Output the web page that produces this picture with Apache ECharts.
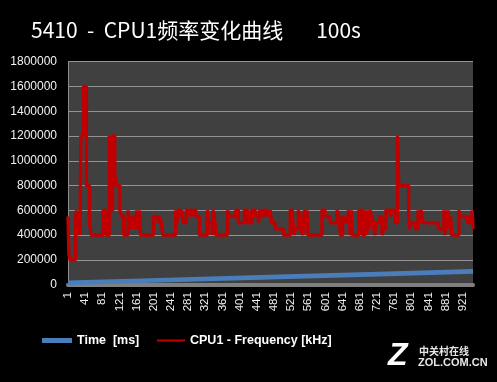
<!DOCTYPE html>
<html>
<head>
<meta charset="utf-8">
<script src="https://cdn.jsdelivr.net/npm/echarts@6/dist/echarts.min.js"></script>
<style>
html,body{margin:0;padding:0;background:#000;}
#c{width:497px;height:382px;}
</style>
</head>
<body>
<div id="c"></div>
<script>
// ---- data ----
const titleText = '5410  -  CPU1频率变化曲线       100s';
const seriesNames = ['Time  [ms]', 'CPU1 - Frequency [kHz]'];
const xMin = 1, xMax = 945, xStep = 40;
const yMax = 1800000, yStep = 200000;

// Time [ms] : sample index -> value
const timeIdx = [1, 235, 470, 705, 945];
const timeVal = [14000, 37000, 60000, 83000, 106000];

// CPU1 frequency [kHz]: sample index where a value starts -> value
const freqIdx = [
  1, 3, 6, 19, 21, 23, 27, 29, 31, 37, 44, 51, 55, 83, 89, 97, 100, 105, 110, 113,
  122, 126, 131, 141, 145, 148, 151, 154, 157, 161, 164, 167, 170, 200, 211, 214, 218, 222,
  252, 255, 258, 263, 266, 270, 277, 282, 285, 290, 293, 299, 307, 326, 329, 337, 339, 342, 346,
  373, 376, 392, 398, 412, 420, 429, 437, 445, 448, 452, 455,
  460, 464, 468, 472, 476, 484, 503, 519, 524, 528, 530, 538, 541, 544, 548, 552, 556, 558, 560,
  593, 600, 612, 628, 632, 636, 641, 645, 648, 652, 655, 659, 661, 664, 679, 687, 693, 697, 700, 703,
  705, 709, 713, 716, 719, 728, 733, 737, 742, 752, 756, 764, 769, 772, 795, 797, 801, 810, 817, 821,
  824, 826, 830, 864, 877, 879, 881, 884, 887, 890, 893, 895, 912, 914, 932, 937, 943, 945
];
const freqVal = [
  550000, 250000, 200000, 550000, 600000, 400000, 500000, 400000, 1200000, 1600000, 800000, 500000, 400000, 600000, 400000, 1200000, 600000, 1200000, 900000, 800000,
  600000, 550000, 400000, 600000, 450000, 550000, 450000, 550000, 450000, 600000, 450000, 600000, 400000, 550000, 500000, 550000, 500000, 400000,
  600000, 500000, 600000, 550000, 600000, 500000, 600000, 550000, 600000, 550000, 600000, 550000, 400000, 600000, 500000, 400000, 600000, 550000, 400000,
  600000, 550000, 600000, 500000, 600000, 500000, 600000, 550000, 500000, 600000, 550000, 600000,
  550000, 600000, 550000, 600000, 500000, 450000, 400000, 600000, 550000, 400000, 450000, 600000, 550000, 450000, 400000, 600000, 550000, 600000, 400000,
  600000, 550000, 500000, 600000, 550000, 400000, 550000, 500000, 550000, 500000, 600000, 400000, 600000, 400000, 600000, 400000, 600000, 400000, 600000, 450000,
  600000, 550000, 500000, 400000, 500000, 550000, 400000, 450000, 600000, 550000, 600000, 500000, 1200000, 800000, 550000, 450000, 500000, 450000, 600000, 500000,
  600000, 550000, 500000, 450000, 600000, 400000, 600000, 450000, 600000, 450000, 550000, 400000, 600000, 550000, 500000, 550000, 600000, 450000
];

const timeData = timeIdx.map((x, i) => [x, timeVal[i]]);
const freqData = freqIdx.map((x, i) => [x, freqVal[i]]);

const chart = echarts.init(document.getElementById('c'), null, {renderer: 'canvas'});
chart.setOption({
  backgroundColor: '#000000',
  animation: false,
  title: {
    text: titleText,
    left: 31, top: 20, padding: 0,
    textStyle: {color: '#ffffff', fontSize: 21, fontWeight: 'normal', fontFamily: 'Noto Sans CJK SC'}
  },
  legend: [
    {
      data: [seriesNames[0]], left: 42, top: 334, padding: 0, icon: 'rect',
      itemWidth: 30, itemHeight: 5,
      textStyle: {color: '#ffffff', fontSize: 12.5, fontWeight: 'bold', fontFamily: 'Liberation Sans'}
    },
    {
      data: [seriesNames[1]], left: 157, top: 334, padding: 0, icon: 'rect',
      itemWidth: 28, itemHeight: 2,
      textStyle: {color: '#ffffff', fontSize: 12.5, fontWeight: 'bold', fontFamily: 'Liberation Sans'}
    }
  ],
  grid: {
    left: 68, right: 24, top: 61.7, bottom: 97.4,
    show: true, backgroundColor: '#404040', borderWidth: 0
  },
  xAxis: {
    type: 'value', min: xMin, max: xMax, interval: xStep,
    offset: 1.5,
    axisLine: {show: true, lineStyle: {color: '#808080', width: 4}},
    axisTick: {show: false},
    splitLine: {show: false},
    axisLabel: {
      rotate: 90, margin: 6, color: '#f2f2f2', fontSize: 11.5, fontFamily: 'Liberation Sans',
      showMaxLabel: false, showMinLabel: true,
      formatter: v => String(v)
    }
  },
  yAxis: {
    type: 'value', min: 0, max: yMax, interval: yStep,
    axisLine: {show: true, lineStyle: {color: '#8c8c8c', width: 1}},
    axisTick: {show: false},
    splitLine: {show: true, lineStyle: {color: '#949494', width: 1}},
    axisLabel: {margin: 11, color: '#f2f2f2', fontSize: 12, fontFamily: 'Liberation Sans', formatter: v => String(v)}
  },
  series: [
    {
      name: seriesNames[0], type: 'line', data: timeData, symbol: 'none',
      color: '#4a7ebb',
      lineStyle: {color: '#4a7ebb', width: 4.7}
    },
    {
      name: seriesNames[1], type: 'line', data: freqData, symbol: 'none', step: 'end',
      color: '#c00000',
      lineStyle: {color: '#c00000', width: 3.4}
    }
  ],
  graphic: [
    {type: 'text', left: 388, top: 340, style: {text: 'Z', fill: '#ffffff', font: 'italic bold 32px Liberation Sans'}},
    {type: 'text', left: 419, top: 346, style: {text: '中关村在线', fill: '#e6e6e6', font: 'bold 10px "Noto Sans CJK SC"'}},
    {type: 'text', left: 418, top: 357, style: {text: 'ZOL.COM.CN', fill: '#e6e6e6', font: 'bold 11px Liberation Sans'}}
  ]
});
</script>
</body>
</html>
